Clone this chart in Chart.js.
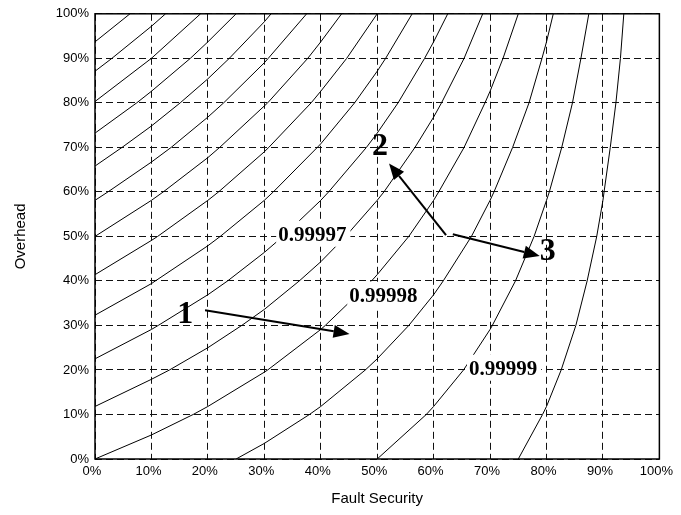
<!DOCTYPE html>
<html><head><meta charset="utf-8">
<script src="https://cdn.jsdelivr.net/npm/chart.js@4/dist/chart.umd.min.js"></script>
<style>html,body{margin:0;padding:0;background:#fff;}</style>
</head><body>
<canvas id="c" width="681" height="515"></canvas>
<script>
// ---- data (x = Fault Security %, y = Overhead %) ----
const curve01 = [[0,93.7],[6.2,100]];
const curve02 = [[0,87.1],[3.0,90],[10,97.2],[12.5,100]];
const curve03 = [[0,80.3],[10,90],[18.7,100]];
const curve04 = [[0,73.2],[7.4,80],[10,82.6],[16.9,90],[20,93.7],[25,100]];
const curve05 = [[0,65.8],[4.8,70],[10,74.8],[15.1,80],[20,85.4],[23.8,90],[30,98.2],[31.2,100]];
const curve06 = [[0,58.1],[2.3,60],[10,66.7],[13.5,70],[20,76.8],[22.8,80],[30,89.0],[30.7,90],[37.5,100]];
const curve07 = [[0,50],[10,58.1],[12.1,60],[20,67.7],[22.1,70],[30,79.3],[30.6,80],[37.7,90],[40,93.7],[43.7,100]];
const curve08 = [[0,41.4],[10,49.1],[11.1,50],[20,58.1],[21.9,60],[30,69.0],[30.8,70],[38.3,80],[40,82.6],[44.6,90],[50,100]];
const curve09 = [[0,32.3],[10,39.4],[10.7,40],[20,47.9],[22.2,50],[30,58.1],[31.6,60],[39.4,70],[40,70.8],[46.0,80],[50,87.1],[51.5,90],[56.2,100]];
const curve10 = [[0,22.5],[10,29.1],[11.2,30],[20,36.9],[23.5,40],[30,46.4],[33.3,50],[40,58.1],[41.4,60],[48.1,70],[50,73.2],[53.7,80],[58.4,90],[60,93.7],[62.5,100]];
const curve11 = [[0,11.8],[10,17.9],[13.2,20],[20,25],[26.0,30],[30,33.6],[36.2,40],[40,44.3],[44.4,50],[50,58.1],[51.2,60],[56.7,70],[60,76.8],[61.4,80],[65.4,90],[68.7,100]];
const curve12 = [[0,0],[10,5.4],[17.4,10],[20,11.8],[30,19.5],[30.6,20],[40,29.1],[40.8,30],[49.0,40],[50,41.4],[55.6,50],[60,58.1],[60.9,60],[65.4,70],[69.1,80],[70,82.6],[72.3,90],[75,100]];
const curve13 = [[25,0],[30,3.5],[38.0,10],[40,11.8],[47.9,20],[50,22.5],[55.6,30],[60,36.9],[61.7,40],[66.7,50],[70,58.1],[70.7,60],[74.0,70],[76.9,80],[79.2,90],[80,93.7],[81.2,100]];
const curve14 = [[50,0],[58.7,10],[60,11.8],[65.3,20],[70,29.1],[70.4,30],[74.5,40],[77.8,50],[80,58.1],[80.5,60],[82.7,70],[84.6,80],[86.1,90],[87.5,100]];
const curve15 = [[75,0],[79.3,10],[80,11.8],[82.6,20],[85.2,30],[87.2,40],[88.9,50],[90,58.1],[90.2,60],[91.3,70],[92.3,80],[93.1,90],[93.7,100]];

const xTickLabels = ['0%','10%','20%','30%','40%','50%','60%','70%','80%','90%','100%'];
const yTickLabels = ['0%','10%','20%','30%','40%','50%','60%','70%','80%','90%','100%'];

const contourLabels = ['0.99997','0.99998','0.99999'];
const contourLabelAt = [[38.5,50.6],[51.1,36.9],[72.3,20.5]];
const markerLabels = ['1','2','3'];
const markerAt = [[16.0,33.0],[50.5,70.8],[80.2,47.1]];
const arrowFrom = [[19.5,33.4],[62.2,50.3],[63.4,50.5]];
const arrowTo = [[45.1,28.1],[52.1,66.4],[78.8,45.6]];

const curves = [curve01,curve02,curve03,curve04,curve05,curve06,curve07,curve08,curve09,curve10,curve11,curve12,curve13,curve14,curve15];

const datasets = curves.map(c => ({
  data: c.map(p => ({x: p[0], y: p[1]})),
  showLine: true, borderColor: '#000', borderWidth: 1, pointRadius: 0, tension: 0, fill: false
}));

const overlay = {
  id: 'overlay',
  afterDatasetsDraw(chart) {
    const {ctx, chartArea: a, scales: {x, y}} = chart;
    ctx.save();
    // contour value labels on white boxes
    ctx.font = 'bold 21px "Liberation Serif"';
    ctx.textAlign = 'left';
    ctx.textBaseline = 'alphabetic';
    contourLabels.forEach((t, i) => {
      const cx = x.getPixelForValue(contourLabelAt[i][0]);
      const cy = y.getPixelForValue(contourLabelAt[i][1]);
      const w = ctx.measureText(t).width;
      const l = cx - w / 2;
      ctx.fillStyle = '#fff';
      ctx.fillRect(l - 2, cy - 13, w + 6, 26);
      ctx.fillStyle = '#000';
      ctx.fillText(t, l, cy + 7.1);
    });
    // arrows
    ctx.strokeStyle = '#000';
    ctx.fillStyle = '#000';
    ctx.lineWidth = 2;
    arrowFrom.forEach((f, i) => {
      const x0 = x.getPixelForValue(f[0]), y0 = y.getPixelForValue(f[1]);
      const x1 = x.getPixelForValue(arrowTo[i][0]), y1 = y.getPixelForValue(arrowTo[i][1]);
      const ang = Math.atan2(y1 - y0, x1 - x0);
      const L = 16, H = 6.5;
      const bx = x1 - L * Math.cos(ang), by = y1 - L * Math.sin(ang);
      ctx.beginPath();
      ctx.moveTo(x0, y0);
      ctx.lineTo(bx, by);
      ctx.stroke();
      ctx.beginPath();
      ctx.moveTo(x1, y1);
      ctx.lineTo(bx + H * Math.sin(ang), by - H * Math.cos(ang));
      ctx.lineTo(bx - H * Math.sin(ang), by + H * Math.cos(ang));
      ctx.closePath();
      ctx.fill();
    });
    // markers 1 2 3
    ctx.font = 'bold 32px "Liberation Serif"';
    ctx.textAlign = 'center';
    markerLabels.forEach((t, i) => {
      const cx = x.getPixelForValue(markerAt[i][0]);
      const cy = y.getPixelForValue(markerAt[i][1]);
      ctx.fillText(t, cx, cy + 10.8);
    });
    // frame
    ctx.lineWidth = 1.5;
    ctx.strokeRect(a.left, a.top, a.right - a.left, a.bottom - a.top);
    ctx.restore();
  }
};

new Chart(document.getElementById('c'), {
  type: 'scatter',
  data: { datasets },
  plugins: [overlay],
  options: {
    responsive: false,
    animation: false,
    layout: { padding: { left: 0, right: 21, top: 12, bottom: 0 } },
    plugins: { legend: { display: false }, tooltip: { enabled: false } },
    scales: {
      x: {
        type: 'linear', min: 0, max: 100, position: 'bottom',
        afterFit: s => { s.height = 56; },
        ticks: { stepSize: 10, padding: 5, labelOffset: -3, maxRotation: 0, autoSkip: false, color: '#000',
                 font: { family: 'Liberation Sans', size: 13 }, callback: (v, i) => xTickLabels[i] },
        grid: { color: '#111', lineWidth: 1, drawTicks: false },
        border: { display: false, dash: [7, 4] },
        title: { display: true, text: 'Fault Security', color: '#000',
                 font: { family: 'Liberation Sans', size: 15 }, padding: { top: 0, bottom: 7 } }
      },
      y: {
        type: 'linear', min: 0, max: 100, position: 'left',
        afterFit: s => { s.width = 95; },
        ticks: { stepSize: 10, padding: 6, color: '#000',
                 font: { family: 'Liberation Sans', size: 13 }, callback: (v, i) => yTickLabels[i] },
        grid: { color: '#111', lineWidth: 1, drawTicks: false },
        border: { display: false, dash: [7, 4] },
        title: { display: true, text: 'Overhead', color: '#000',
                 font: { family: 'Liberation Sans', size: 15 }, padding: { top: 12, bottom: 0 } }
      }
    }
  }
});
</script>
</body></html>
